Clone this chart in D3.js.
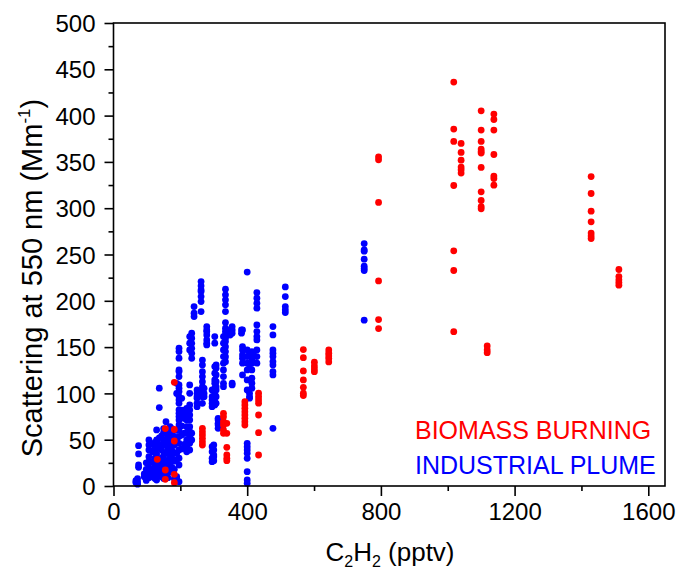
<!DOCTYPE html>
<html>
<head>
<meta charset="utf-8">
<script src="https://cdn.jsdelivr.net/npm/d3@7"></script>
<style>
  html, body { margin: 0; padding: 0; background: #fff; }
  svg { display: block; font-family: "Liberation Sans", Arial, Helvetica, sans-serif; }
</style>
</head>
<body>
<svg id="chart" width="690" height="582"></svg>
<script>
// C2H2 mixing ratio (pptv) and scattering at 550 nm (Mm^-1), grouped by C2H2 value
const biomassColumns = [
  [131, [28.8]],
  [155, [7.2, 17.3, 62]],
  [182, [3.6, 12.6, 48.6, 61, 112]],
  [266, [44.3, 47.9, 51.5, 55.1, 58.7, 62.3]],
  [329, [56.9, 60.5, 65.9, 69.5, 74.9, 78.5]],
  [339, [27.3, 29.9, 33.5, 41.8, 56.9, 67.7]],
  [393, [65.9, 69.5, 73.1, 76.7, 80.3, 83.9, 87.5, 91.1]],
  [434, [33.5, 57.6, 76.7, 89.4, 92.9, 96.5, 100.2]],
  [568, [97.6, 100.2, 106.6, 114.5, 124.3, 138.6, 147.3]],
  [601, [123.5, 126.4, 129.7, 133.7]],
  [644, [134, 137.6, 140.5, 143.4, 147]],
  [793, [170, 179.7, 221.5, 306.2, 352.3, 355.5]],
  [1018, [166.7, 232.7, 254, 324.5, 372.1, 385.4, 436.2]],
  [1040, [337.9, 341.5, 344.4, 351.9, 360.2, 369.9]],
  [1100, [299.3, 301.8, 308.3, 317.7, 344, 359.5, 361.3, 363.8, 372.1, 384.4, 405.2]],
  [1118, [144, 147, 151.3]],
  [1138, [324.9, 332.1, 334.7, 358, 384.4, 395.8, 401.7]],
  [1429, [267.2, 270, 273.1, 285.3, 296.8, 315.9, 334.2]],
  [1512, [216.9, 219.7, 222.6, 226.2, 233.8]]
];

const industrialColumns = [
  [67, [3.7, 5.8]],
  [72, [2, 4.5, 8]],
  [75, [20.2, 22.7, 34.6, 43.6]],
  [92, [10, 13]],
  [98, [6, 18, 25]],
  [106, [9, 14.4, 20.2, 26.3, 31.7, 38.9, 44.3, 49.7]],
  [117, [10, 17.3, 26, 37, 45]],
  [124, [8, 15, 22, 30, 40, 47]],
  [129, [6.5, 11.9, 20.9, 26.3, 34.6, 40.7, 49.7, 60.6]],
  [137, [12, 18, 28, 45, 52, 84.7, 105.6]],
  [144, [10, 17.3, 22.7, 30, 38.9, 44.3, 54]],
  [150, [8, 14, 25, 33, 48, 58, 62]],
  [157, [11.9, 20.9, 26.3, 35.4, 44.3, 49.7, 57, 69.5]],
  [163, [9, 16, 28, 40, 52, 60]],
  [169, [15.5, 24.5, 33.5, 42.5, 49.7, 57, 64.2]],
  [175, [20, 30, 38, 46, 55, 62]],
  [182, [8, 18, 27, 36, 44, 53]],
  [189, [7.5, 10, 28, 35, 50, 60, 100, 110.9]],
  [196, [4.7, 22.7, 30, 38.9, 46.1, 53.4, 60.5, 65.9, 71.3, 75, 78.5, 82.2, 89.3, 92.9, 96.6, 102, 105.5, 109.2, 118.2, 123.6, 125.3, 138, 145.2, 148.8]],
  [204, [40, 55, 65, 78.5, 82, 94.7]],
  [212, [45, 57, 73, 82]],
  [219, [37, 42.5, 49.7, 56.9, 64.1, 71.3, 78.5, 83.9]],
  [228, [38.9, 46.1, 53.3, 58.7, 64.1, 71.3, 76.7, 82.1, 87.5, 100.1, 109.1, 147, 154.2, 161.4]],
  [234, [49.7, 57, 137.9, 143.3, 148.7, 154.1, 159.6, 165]],
  [241, [183, 186.6, 193.8]],
  [250, [85.7, 89.3, 94.7, 96.6, 100, 103.7]],
  [262, [188.4, 199.2, 204.6, 210, 211.8, 216.2, 220.8]],
  [266, [89.3, 96.5, 101.9, 107.3, 112.7, 118.2, 123.5, 130.7, 136]],
  [271, [96.5, 100, 105.5]],
  [279, [152.4, 154.1, 157.7, 163.2, 166.8, 168.6, 172.2]],
  [295, [26.3, 30, 37, 42.5, 85.7, 89.3, 92.9, 96.5, 103.7]],
  [300, [27.4, 31.7, 33.5, 38.9, 44.3]],
  [303, [87.6, 91.2, 96.6, 100.2, 105.5, 111, 114.6, 121.8, 129, 154.2, 161.4]],
  [307, [89.3, 96.5, 103.7, 107.3, 112.7, 120, 127.1, 130.7]],
  [313, [62.3, 65.9, 67.7, 71.3, 73.1]],
  [329, [107.3, 110.9, 118.2, 125.4, 132.6, 139.8, 147, 154.2, 161.4]],
  [335, [134.3, 139.7, 145.2, 150.5, 156, 159.6, 163.2, 166.8, 170.4, 176.5, 188.4, 195.6, 201, 206.4, 212.5]],
  [349, [163, 166.8, 168.6]],
  [355, [109.1, 111, 165, 168.6, 172.2]],
  [383, [165, 168.6]],
  [386, [120, 132.6, 138, 141.6, 147, 150.6, 168.6]],
  [400, [2.9, 6.5, 15.5, 29.9, 35.3, 38.9, 42.5, 46.1, 103.7, 114.6, 125.4, 132.6, 139.8, 147, 231]],
  [407, [94.8, 96.5, 100.2, 130.8, 143.4]],
  [414, [105.6, 111, 116.4, 125.4, 132.6, 136, 139.8, 145]],
  [419, [141.6]],
  [429, [132.6, 139.8, 147, 157.8, 161.4, 166.8, 174, 192, 197.4, 202.8, 208.9]],
  [477, [62.3, 120, 123.6, 130.8, 134.4, 139.8, 143.4, 147, 163.2, 172.2]],
  [514, [187.3, 190.2, 193.8, 204.6, 215]],
  [750, [179.1, 232.7, 234.8, 237.4, 245, 253.6, 255, 261.8]]
];

const xTicks = [0, 400, 800, 1200, 1600];
const xMinorTicks = [200, 600, 1000, 1400];
const yTicks = [0, 50, 100, 150, 200, 250, 300, 350, 400, 450, 500];
const yMinorTicks = [25, 75, 125, 175, 225, 275, 325, 375, 425, 475];
const legendLabels = ["BIOMASS BURNING", "INDUSTRIAL PLUME"];
const seriesColors = ["#ff0000", "#0000ff"];

const flatten = cols => cols.flatMap(([cx, ys]) => ys.map(v => ({ x: cx, y: v })));
const biomass = flatten(biomassColumns);
const industrial = flatten(industrialColumns);

const svg = d3.select("#chart");
const plotLeft = 113.5, plotRight = 665, plotTop = 23, plotBottom = 486;

const x = d3.scaleLinear().domain([0, 1650]).range([plotLeft, plotRight]);
const y = d3.scaleLinear().domain([0, 500]).range([plotBottom, plotTop]);

// points: industrial first, biomass drawn on top
const r = 3.4;
svg.append("g").selectAll("circle").data(industrial).join("circle")
  .attr("cx", d => x(d.x)).attr("cy", d => y(d.y)).attr("r", r)
  .attr("fill", seriesColors[1]);
svg.append("g").selectAll("circle").data(biomass).join("circle")
  .attr("cx", d => x(d.x)).attr("cy", d => y(d.y)).attr("r", r)
  .attr("fill", seriesColors[0]);

// frame
svg.append("rect")
  .attr("x", plotLeft).attr("y", plotTop)
  .attr("width", plotRight - plotLeft).attr("height", plotBottom - plotTop)
  .attr("fill", "none").attr("stroke", "#000").attr("stroke-width", 1.6);

const tickFont = 24;

// x axis
const xAxis = svg.append("g").attr("transform", `translate(0,${plotBottom})`)
  .call(d3.axisBottom(x).tickValues(xTicks).tickSize(10).tickPadding(7).tickFormat(d3.format("d")));
const xMinor = svg.append("g").attr("transform", `translate(0,${plotBottom})`)
  .call(d3.axisBottom(x).tickValues(xMinorTicks).tickSize(5).tickFormat(""));

// y axis
const yAxis = svg.append("g").attr("transform", `translate(${plotLeft},0)`)
  .call(d3.axisLeft(y).tickValues(yTicks).tickSize(9).tickPadding(9).tickFormat(d3.format("d")));
const yMinor = svg.append("g").attr("transform", `translate(${plotLeft},0)`)
  .call(d3.axisLeft(y).tickValues(yMinorTicks).tickSize(5).tickFormat(""));

[xAxis, xMinor, yAxis, yMinor].forEach(g => {
  g.select(".domain").remove();
  g.selectAll(".tick line").attr("stroke", "#000").attr("stroke-width", 1.6);
  g.selectAll(".tick text").attr("fill", "#000")
    .style("font-size", tickFont + "px")
    .style("font-family", '"Liberation Sans", Arial, sans-serif');
});
yAxis.selectAll(".tick text").attr("dy", "0.36em");

// axis titles
const xTitle = svg.append("text")
  .attr("x", 390).attr("y", 561)
  .attr("text-anchor", "middle")
  .style("font-size", "26px");
xTitle.append("tspan").text("C");
xTitle.append("tspan").text("2").style("font-size", "16px").attr("dy", 6);
xTitle.append("tspan").text("H").attr("dy", -6);
xTitle.append("tspan").text("2").style("font-size", "16px").attr("dy", 6);
xTitle.append("tspan").text(" (pptv)").attr("dy", -6);

const yTitle = svg.append("text")
  .attr("transform", "translate(42,278) rotate(-90)")
  .attr("text-anchor", "middle")
  .style("font-size", "29px");
yTitle.append("tspan").text("Scattering at 550 nm (Mm");
yTitle.append("tspan").text("-1").style("font-size", "17px").attr("dy", -12);
yTitle.append("tspan").text(")").attr("dy", 12);

// legend
const legendY = [439, 474];
legendLabels.forEach((t, i) => {
  svg.append("text")
    .attr("x", 415).attr("y", legendY[i])
    .attr("fill", seriesColors[i])
    .style("font-size", "25px")
    .text(t);
});
</script>
</body>
</html>
